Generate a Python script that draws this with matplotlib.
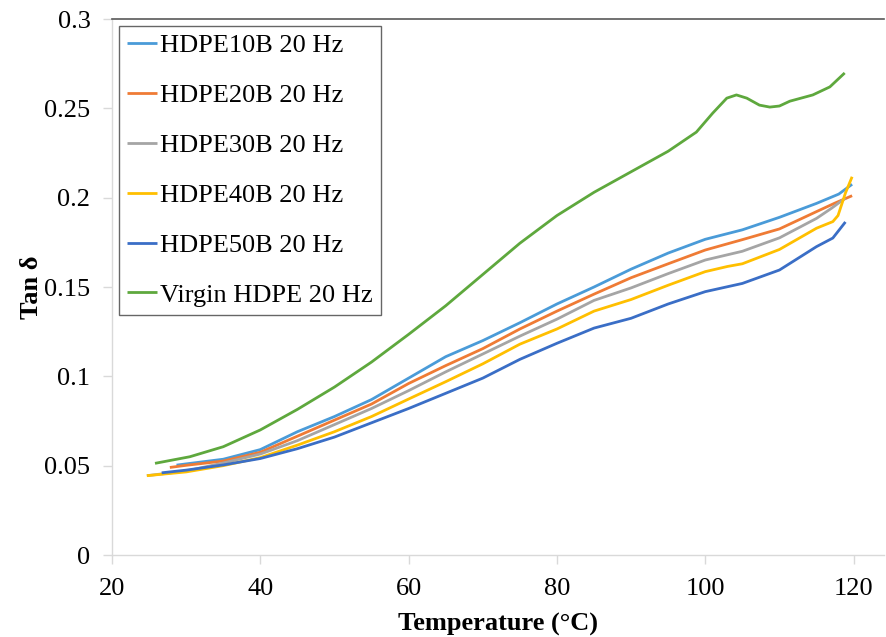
import numpy as np
import matplotlib
matplotlib.use("Agg")
import matplotlib.pyplot as plt

plt.rcParams['font.family'] = ['Liberation Serif', 'DejaVu Serif']

# Values (temperature in degC, tan delta)
t_10b = [28.7, 30, 35, 40, 45, 50, 55, 60, 65, 70, 75, 80, 85, 90, 95, 100, 105, 110, 115, 118, 119.8]
tan_10b = [0.0503, 0.051, 0.0536, 0.059, 0.069, 0.0775, 0.087, 0.099, 0.111, 0.120, 0.130, 0.1405,
           0.150, 0.160, 0.169, 0.1767, 0.182, 0.189, 0.1968, 0.202, 0.2075]

t_20b = [27.8, 30, 35, 40, 45, 50, 55, 60, 65, 70, 75, 80, 85, 90, 95, 100, 105, 110, 115, 117.5, 119.8]
tan_20b = [0.049, 0.0502, 0.0526, 0.0575, 0.0665, 0.0755, 0.0845, 0.096, 0.106, 0.1155, 0.1265, 0.1365,
           0.146, 0.1552, 0.163, 0.1707, 0.1765, 0.1825, 0.1922, 0.197, 0.2011]

t_30b = [24.7, 30, 35, 40, 45, 50, 55, 60, 65, 70, 75, 80, 85, 90, 95, 100, 105, 110, 115, 117, 118.9]
tan_30b = [0.0444, 0.047, 0.0515, 0.0565, 0.064, 0.073, 0.082, 0.092, 0.1025, 0.1125, 0.1225, 0.132,
           0.1425, 0.1495, 0.1575, 0.1651, 0.170, 0.1775, 0.1884, 0.194, 0.1998]

t_40b = [24.7, 30, 35, 40, 45, 50, 55, 60, 65, 70, 75, 80, 85, 90, 95, 100, 103, 105, 110, 115, 117.2, 117.9, 118.9, 119.8]
tan_40b = [0.0444, 0.0465, 0.050, 0.0545, 0.0615, 0.069, 0.0775, 0.0873, 0.097, 0.107, 0.118, 0.1265,
           0.1365, 0.143, 0.151, 0.1586, 0.1615, 0.163, 0.171, 0.1829, 0.1866, 0.190, 0.2026, 0.2117]

t_50b = [26.7, 30, 35, 40, 45, 50, 55, 60, 65, 70, 75, 80, 85, 90, 95, 100, 105, 110, 115, 117.2, 118.9]
tan_50b = [0.046, 0.0475, 0.0504, 0.054, 0.0595, 0.066, 0.074, 0.082, 0.0905, 0.099, 0.1095, 0.1185,
           0.127, 0.1325, 0.1405, 0.1474, 0.152, 0.1595, 0.1726, 0.1774, 0.1864]

t_virgin = [25.8, 30.5, 35, 40, 45, 50, 55, 60, 65, 70, 75, 80, 85, 90, 95, 98.8, 101, 102.9, 104.2,
            105.6, 107.3, 108.7, 110, 111.4, 114.5, 116.8, 118.8]
tan_virgin = [0.0513, 0.055, 0.0606, 0.070, 0.0815, 0.094, 0.108, 0.1235, 0.1395, 0.157, 0.1745, 0.190,
              0.203, 0.2145, 0.226, 0.2367, 0.2473, 0.2557, 0.2575, 0.2557, 0.2518, 0.2507, 0.2513,
              0.254, 0.2575, 0.262, 0.2698]

series = [
    ("HDPE10B 20 Hz", t_10b, tan_10b, "#4A9BD8"),
    ("HDPE20B 20 Hz", t_20b, tan_20b, "#EF7B35"),
    ("HDPE30B 20 Hz", t_30b, tan_30b, "#A5A5A5"),
    ("HDPE40B 20 Hz", t_40b, tan_40b, "#FFBF00"),
    ("HDPE50B 20 Hz", t_50b, tan_50b, "#3A6EC6"),
    ("Virgin HDPE 20 Hz", t_virgin, tan_virgin, "#5EA83D"),
]

fig = plt.figure(figsize=(8.86, 6.37), dpi=100)
ax = fig.add_axes([112 / 886, 82 / 637, 772 / 886, 536 / 637])

for label, t, v, c in series:
    ax.plot(t, v, color=c, lw=2.0, label=label, solid_capstyle='butt')

ax.set_xlim(20, 124.1)
ax.set_ylim(0, 0.3)
ax.set_xticks([20, 40, 60, 80, 100, 120])
ax.set_yticks([0, 0.05, 0.1, 0.15, 0.2, 0.25, 0.3])
ax.set_yticklabels(["0", "0.05", "0.1", "0.15", "0.2", "0.25", "0.3"])

for s in ("left", "bottom"):
    ax.spines[s].set_color("#d9d9d9")
    ax.spines[s].set_linewidth(1.0)
ax.spines["right"].set_visible(False)
ax.spines["top"].set_color("#595959")
ax.spines["top"].set_linewidth(1.2)

ax.tick_params(axis="both", colors="#d9d9d9", labelcolor="black", labelsize=19,
               length=6.5, width=1.0, direction="out")
ax.tick_params(axis="y", pad=9)
ax.tick_params(axis="x", pad=10)

ax.set_xlabel("Temperature (°C)", fontsize=19, fontweight="bold", labelpad=9)
ax.set_ylabel("Tan δ", fontsize=19, fontweight="bold", labelpad=1)

leg = ax.legend(loc="upper left", bbox_to_anchor=(0.009, 0.987), borderaxespad=0,
                fontsize=19, frameon=True, fancybox=False, edgecolor="#404040",
                handlelength=1.15, handletextpad=0.12, labelspacing=1.0,
                borderpad=0.3)
leg.get_frame().set_linewidth(1.0)

fig.savefig("out.png", dpi=100)
